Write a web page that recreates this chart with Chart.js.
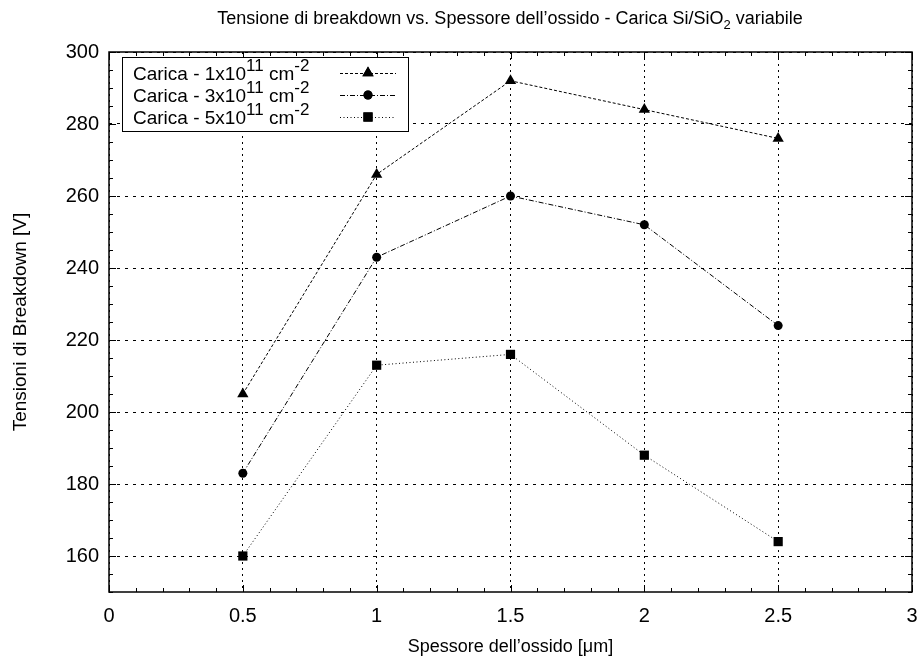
<!DOCTYPE html>
<html>
<head>
<meta charset="utf-8">
<script src="https://cdn.jsdelivr.net/npm/chart.js@4.4.1/dist/chart.umd.min.js"></script>
<style>
  html, body { margin: 0; padding: 0; background: #fff; }
  #wrap { width: 922px; height: 661px; }
</style>
</head>
<body>
<div id="wrap"><canvas id="chart" width="922" height="661"></canvas></div>
<script>
// spessore dell'ossido [um]
const thickness = [0.5, 1, 1.5, 2, 2.5]
// tensioni di breakdown [V]
const carica1 = [205, 266, 292, 284, 276]
const carica3 = [183, 243, 260, 252, 224]
const carica5 = [160, 213, 216, 188, 164]
const seriesExp = ["1", "3", "5"]

const xTicks = [0, 0.5, 1, 1.5, 2, 2.5, 3]
const yTicks = [160, 180, 200, 220, 240, 260, 280, 300]

const FONT = "'Liberation Sans', Arial, Helvetica, sans-serif"

const styles = [
  { dash: [3, 2], point: "triangle", radius: 6.5 },
  { dash: [5, 2, 1, 2], point: "circle", radius: 4.5 },
  { dash: [1, 2.5], point: "rect", radius: 6.5 }
]

function toPoints(vals) {
  return thickness.map((x, i) => ({ x: x, y: vals[i] }))
}

const datasets = [carica1, carica3, carica5].map((vals, i) => ({
  label: "Carica - " + seriesExp[i] + "x10^11 cm^-2",
  data: toPoints(vals),
  borderColor: "#000",
  backgroundColor: "#000",
  borderWidth: 1,
  borderDash: styles[i].dash,
  pointStyle: styles[i].point,
  pointRadius: styles[i].radius,
  pointBorderWidth: 0,
  pointBackgroundColor: "#000",
  tension: 0
}))

// title with subscript, inner ticks, frame, legend with superscripts
const decorations = {
  id: "decorations",
  afterDraw(chart) {
    const ctx = chart.ctx
    const a = chart.chartArea
    const xs = chart.scales.x
    const ys = chart.scales.y
    ctx.save()

    // frame
    ctx.strokeStyle = "#000"
    ctx.lineWidth = 1.5
    ctx.setLineDash([])
    ctx.strokeRect(a.left, a.top, a.right - a.left, a.bottom - a.top)

    // inner ticks
    ctx.lineWidth = 1
    ctx.beginPath()
    for (let v = 0; v <= 3.0001; v += 0.1) {
      const px = Math.round(xs.getPixelForValue(v)) + 0.5
      const major = Math.abs(v * 2 - Math.round(v * 2)) < 1e-6
      const len = major ? 7 : 4
      ctx.moveTo(px, a.bottom); ctx.lineTo(px, a.bottom - len)
      ctx.moveTo(px, a.top); ctx.lineTo(px, a.top + len)
    }
    for (let v = 150; v <= 300; v += 5) {
      const py = Math.round(ys.getPixelForValue(v)) + 0.5
      const major = v % 20 === 0
      const len = major ? 7 : 4
      ctx.moveTo(a.left, py); ctx.lineTo(a.left + len, py)
      ctx.moveTo(a.right, py); ctx.lineTo(a.right - len, py)
    }
    ctx.stroke()

    // title
    ctx.fillStyle = "#000"
    ctx.textBaseline = "alphabetic"
    const tMain = "Tensione di breakdown vs. Spessore dell\u2019ossido - Carica Si/SiO"
    const tEnd = " variabile"
    ctx.font = "18px " + FONT
    const w1 = ctx.measureText(tMain).width
    const w3 = ctx.measureText(tEnd).width
    ctx.font = "13px " + FONT
    const w2 = ctx.measureText("2").width
    let tx = 510 - (w1 + w2 + w3) / 2
    const ty = 24
    ctx.font = "18px " + FONT
    ctx.textAlign = "left"
    ctx.fillText(tMain, tx, ty)
    ctx.font = "13px " + FONT
    ctx.fillText("2", tx + w1, ty + 5)
    ctx.font = "18px " + FONT
    ctx.fillText(tEnd, tx + w1 + w2, ty)

    // legend
    const lx = 122, ly = 57, lw = 286, lh = 74
    ctx.fillStyle = "#fff"
    ctx.fillRect(lx, ly, lw, lh)
    ctx.strokeStyle = "#000"
    ctx.lineWidth = 1
    ctx.strokeRect(lx + 0.5, ly + 0.5, lw, lh)
    const rows = [80, 102, 124]
    chart.data.datasets.forEach((ds, i) => {
      const by = rows[i]
      let x = 133
      ctx.fillStyle = "#000"
      ctx.font = "19px " + FONT
      const p1 = "Carica - " + seriesExp[i] + "x10"
      ctx.fillText(p1, x, by)
      x += ctx.measureText(p1).width
      ctx.font = "17px " + FONT
      ctx.fillText("11", x, by - 9)
      x += ctx.measureText("11").width
      ctx.font = "19px " + FONT
      ctx.fillText(" cm", x, by)
      x += ctx.measureText(" cm").width
      ctx.font = "17px " + FONT
      ctx.fillText("-2", x, by - 9)

      const cy = by - 7
      ctx.strokeStyle = "#000"
      ctx.lineWidth = 1
      ctx.setLineDash(ds.borderDash)
      ctx.beginPath()
      ctx.moveTo(340, cy + 0.5)
      ctx.lineTo(396, cy + 0.5)
      ctx.stroke()
      ctx.setLineDash([])
      Chart.helpers.drawPoint(ctx, {
        pointStyle: ds.pointStyle,
        radius: ds.pointRadius,
        rotation: 0,
        borderWidth: 0
      }, 368, cy)
      ctx.fill()
    })

    ctx.restore()
  }
}

new Chart(document.getElementById("chart"), {
  type: "line",
  data: { datasets: datasets },
  options: {
    responsive: false,
    animation: false,
    layout: { padding: { top: 52, right: 10, left: 0, bottom: 0 } },
    plugins: {
      legend: { display: false },
      title: { display: false },
      tooltip: { enabled: false }
    },
    scales: {
      x: {
        type: "linear",
        min: 0,
        max: 3,
        afterBuildTicks: s => { s.ticks = xTicks.map(v => ({ value: v })) },
        afterFit: s => { s.height = 69; s.paddingLeft = 0; s.paddingRight = 0 },
        ticks: {
          color: "#000",
          font: { family: FONT, size: 20 },
          padding: 12,
          callback: v => String(v)
        },
        grid: { color: "#000", lineWidth: 1, drawTicks: false },
        border: { display: false, dash: [2, 4] },
        title: {
          display: true,
          text: "Spessore dell\u2019ossido [\u03bcm]",
          color: "#000",
          font: { family: FONT, size: 18 },
          padding: { top: 0, bottom: 3 }
        }
      },
      y: {
        type: "linear",
        min: 150,
        max: 300,
        afterBuildTicks: s => { s.ticks = yTicks.map(v => ({ value: v })) },
        afterFit: s => { s.width = 109; s.paddingTop = 0; s.paddingBottom = 0 },
        ticks: {
          color: "#000",
          font: { family: FONT, size: 20 },
          padding: 10
        },
        grid: { color: "#000", lineWidth: 1, drawTicks: false },
        border: { display: false, dash: [3, 5] },
        title: {
          display: true,
          text: "Tensioni di Breakdown [V]",
          color: "#000",
          font: { family: FONT, size: 19 },
          padding: { top: 9, bottom: 0 }
        }
      }
    }
  },
  plugins: [decorations]
})
</script>
</body>
</html>
